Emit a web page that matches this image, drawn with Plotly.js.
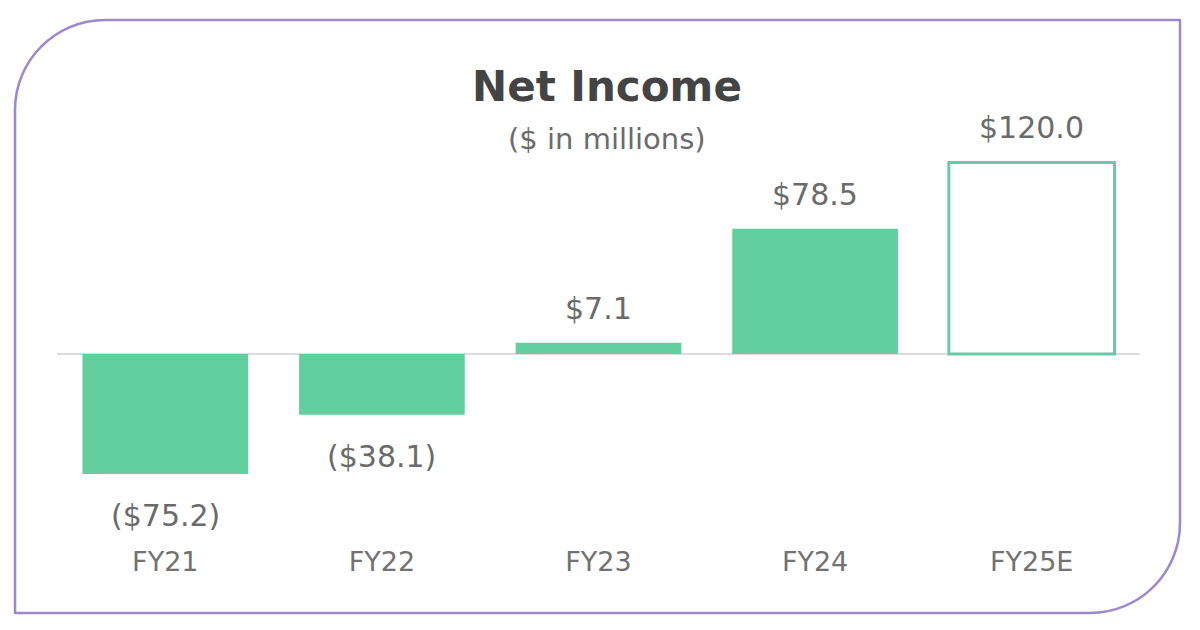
<!DOCTYPE html>
<html><head><meta charset="utf-8">
<script src="https://cdn.plot.ly/plotly-3.0.1.min.js"></script>
<style>html,body{margin:0;padding:0;background:#fff}#chart{width:1200px;height:630px}</style>
</head><body><div id="chart"></div>
<script>
const categories = ["FY21", "FY22", "FY23", "FY24", "FY25E"];
const netIncome = [-75.2, -38.1, 7.1, 78.5, 120.0];
const valueLabels = ["($75.2)", "($38.1)", "$7.1", "$78.5", "$120.0"];
const isEstimate = [false, false, false, false, true];

const W = 1200, H = 630;
const M = {l: 57, r: 60, t: 140, b: 95};
const PW = W - M.l - M.r, PH = H - M.t - M.b;
const px = x => (x - M.l) / PW;
const py = y => 1 - (y - M.t) / PH;

const FONT = "'DejaVu Sans', sans-serif";
const green = "#63cf9f";
const outline = "#6cc8a6";
const k = 0.5523;
function framePath() {
  const L = 15, T = 20, R = 1180, B = 613, r = 90;
  const p = [];
  p.push(`M ${px(L)},${py(B)}`);
  p.push(`L ${px(L)},${py(T + r)}`);
  p.push(`C ${px(L)},${py(T + r - k*r)} ${px(L + r - k*r)},${py(T)} ${px(L + r)},${py(T)}`);
  p.push(`L ${px(R)},${py(T)}`);
  p.push(`L ${px(R)},${py(B - r)}`);
  p.push(`C ${px(R)},${py(B - r + k*r)} ${px(R - r + k*r)},${py(B)} ${px(R - r)},${py(B)}`);
  p.push("Z");
  return p.join(" ");
}

const trace = {
  type: "bar",
  x: categories,
  y: netIncome,
  width: 0.765,
  marker: {
    color: isEstimate.map(e => e ? "#ffffff" : green),
    line: {color: isEstimate.map(e => e ? outline : green), width: isEstimate.map(e => e ? 3 : 0)}
  },
  hoverinfo: "skip"
};

const annotations = categories.map((c, i) => ({
  x: c, y: netIncome[i], xref: "x", yref: "y",
  text: valueLabels[i], showarrow: false,
  yanchor: netIncome[i] >= 0 ? "bottom" : "top",
  yshift: netIncome[i] >= 0 ? 15 : -22,
  font: {family: FONT, size: 30, color: "#6b6b6b"}
}));
annotations.push({
  xref: "paper", yref: "paper", x: px(607), y: py(87), text: "<b>Net Income</b>",
  showarrow: false, xanchor: "center", yanchor: "middle",
  font: {family: FONT, size: 42, color: "#444444"}
});
annotations.push({
  xref: "paper", yref: "paper", x: px(607), y: py(139), text: "($ in millions)",
  showarrow: false, xanchor: "center", yanchor: "middle",
  font: {family: FONT, size: 29, color: "#6b6b6b"}
});

const layout = {
  width: W, height: H,
  margin: M,
  paper_bgcolor: "#ffffff", plot_bgcolor: "rgba(0,0,0,0)",
  showlegend: false,
  xaxis: {
    type: "category", range: [-0.5, 4.5], showgrid: false, zeroline: false, showline: false,
    ticks: "", ticklabelstandoff: 8,
    tickfont: {family: FONT, size: 27, color: "#727272"}
  },
  yaxis: {
    range: [-(535 - 354) / 1.596, (354 - 140) / 1.596],
    showgrid: false, showticklabels: false, zeroline: true, zerolinecolor: "#dcdcdc", zerolinewidth: 2,
    showline: false, ticks: ""
  },
  shapes: [{
    type: "path", xref: "paper", yref: "paper", path: framePath(),
    line: {color: "#9d88cf", width: 2.5}, fillcolor: "rgba(0,0,0,0)", layer: "below"
  }],
  annotations: annotations
};

Plotly.newPlot("chart", [trace], layout, {displayModeBar: false, staticPlot: true});
</script></body></html>
